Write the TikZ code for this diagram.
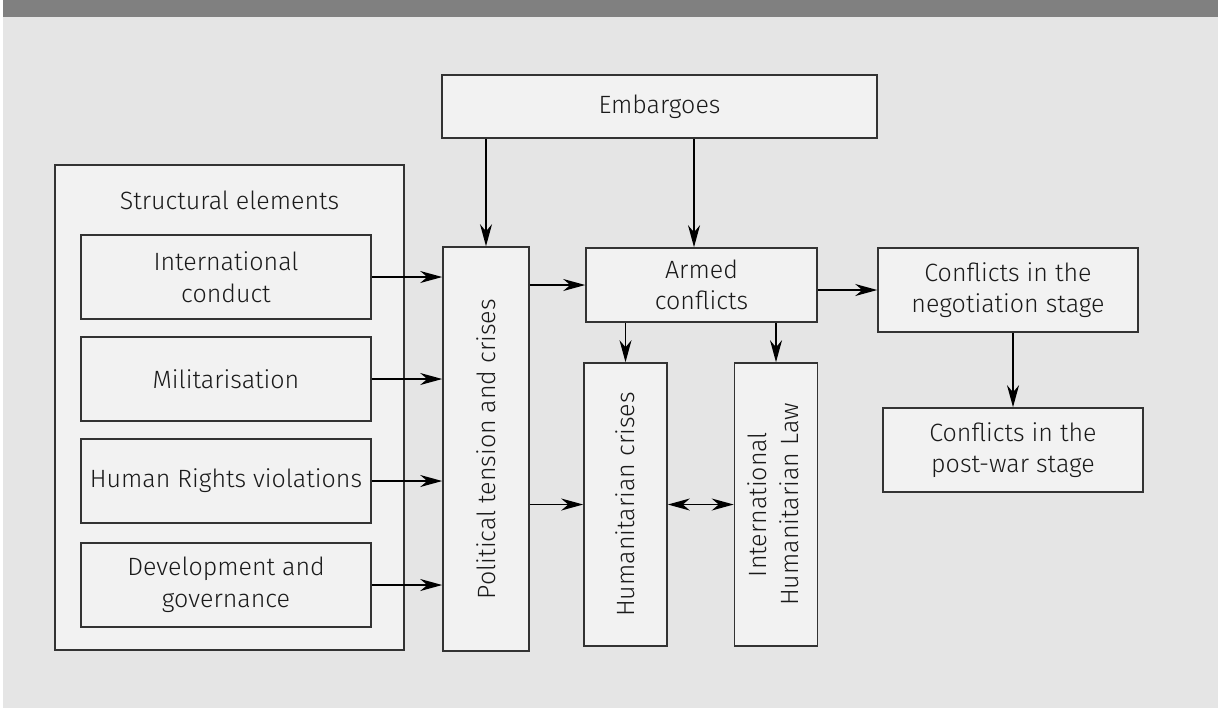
\documentclass[tikz,border=0pt]{standalone}
\usepackage{fontspec}
\setmainfont{Fira Sans}[UprightFont=* Light]
\usetikzlibrary{arrows.meta}
\definecolor{page_gray}{RGB}{229,229,229}
\definecolor{band_gray}{RGB}{128,128,128}
\definecolor{box_fill}{RGB}{242,242,242}
\definecolor{box_edge}{RGB}{51,51,51}
\definecolor{text_gray}{RGB}{26,26,26}

\begin{document}
\begin{tikzpicture}[->,>={Stealth[length=11pt,width=6pt,inset=3.5pt]},line width=0.7pt,x=0.5pt,y=-0.5pt]
    \tikzstyle{box}=[draw=box_edge, rectangle, fill=box_fill, text=text_gray, line width=0.8pt, inner sep=0pt, align=center, font=\fontsize{12.5}{15.8}\selectfont]
    \tikzstyle{outer}=[style=box, minimum width=174.5pt, minimum height=242.5pt]
    \tikzstyle{elem}=[style=box, minimum width=145pt, minimum height=42pt]
    \tikzstyle{col}=[style=box, minimum width=41.5pt, minimum height=141.5pt]
    \tikzstyle{wide}=[style=box, minimum width=115.5pt, minimum height=37pt]
    \tikzstyle{stage}=[style=box, minimum width=130pt, minimum height=42pt]
    \tikzstyle{title}=[text=text_gray, inner sep=0pt, font=\fontsize{12.5}{15.8}\selectfont]

    \useasboundingbox (0,0) rectangle (1218,708);
    \fill[white] (0,0) rectangle (1218,708);
    \fill[page_gray] (3,17) rectangle (1218,708);
    \fill[band_gray] (3,0) rectangle (1218,17);

    \node[outer] (struct) at (229.5,407.5) {};
    \node[title, anchor=base] (st) at (229.5,209) {Structural elements};
    \node[elem] (ic)  at (226,277) {International\\conduct};
    \node[elem] (mil) at (226,379) {Militarisation};
    \node[elem] (hr)  at (226,481) {Human Rights violations};
    \node[elem] (dev) at (226,585) {Development and\\governance};

    \node[box, minimum width=217.5pt, minimum height=31.5pt] (emb) at (659.5,106.5) {Embargoes};
    \node[col, minimum width=43pt, minimum height=202pt] (pol) at (486,449) {\rotatebox{90}{Political tension and crises}};
    \node[wide] (armed) at (701.5,285) {Armed\\conflicts};
    \node[col] (hum) at (625.5,504.5) {\rotatebox{90}{Humanitarian crises}};
    \node[col] (ihl) at (776,504.5) {\rotatebox{90}{\begin{tabular}{@{}c@{}}International\\Humanitarian Law\end{tabular}}};
    \node[stage] (neg)  at (1008,290) {Conflicts in the\\negotiation stage};
    \node[stage] (post) at (1013,450) {Conflicts in the\\post-war stage};
    \coordinate (ea) at (694,0);

    \path
     (emb.south -| pol.north) edge (pol.north)
     (emb.south -| ea) edge (armed.north -| ea)
     (ic.east)  edge (pol.west |- ic.east)
     (mil.east) edge (pol.west |- mil.east)
     (hr.east)  edge (pol.west |- hr.east)
     (dev.east) edge (pol.west |- dev.east)
     (pol.east |- armed.west) edge (armed.west)
     (pol.east |- hum.west) edge (hum.west)
     (armed.south -| hum.north) edge (hum.north)
     (armed.south -| ihl.north) edge (ihl.north)
     (armed.east |- neg.west) edge (neg.west)
     (neg.south -| post.north) edge (post.north)
     (hum.east) edge[<->] (ihl.west)
     ;
\end{tikzpicture}
\end{document}
